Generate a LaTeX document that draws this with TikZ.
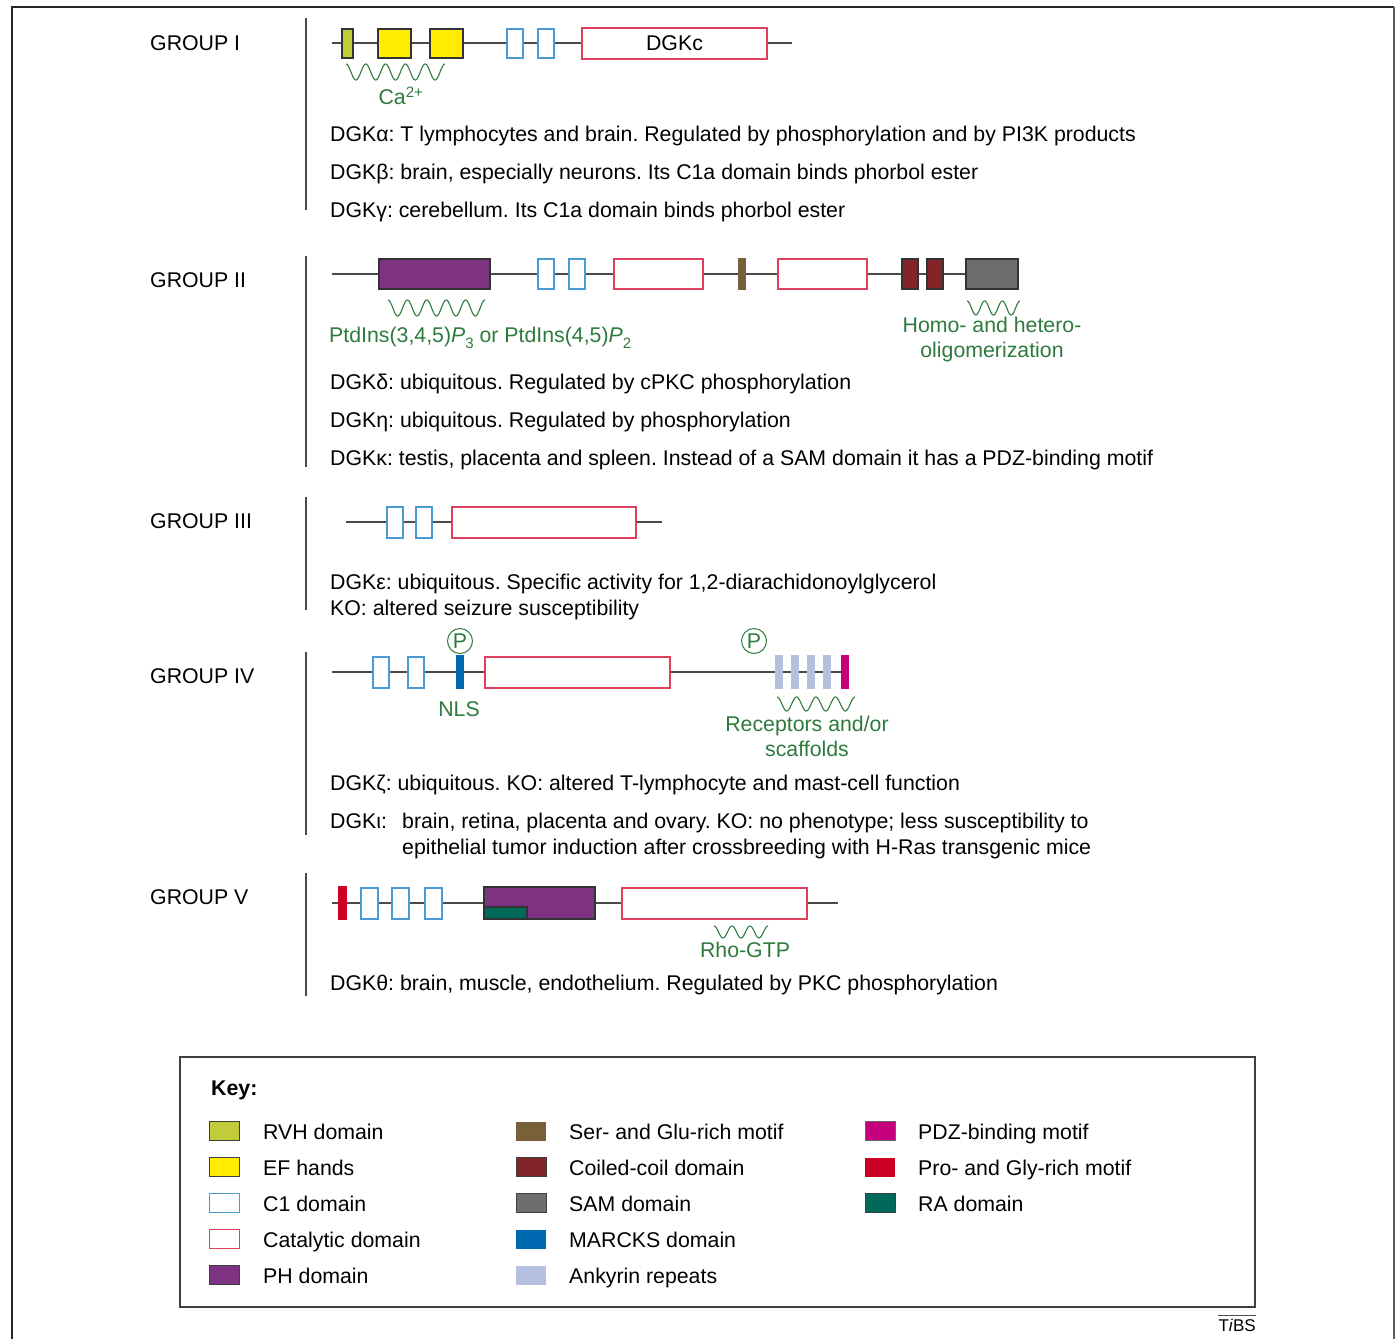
\documentclass[tikz,border=0pt]{standalone}
\usepackage{fontspec}
\setmainfont{Liberation Sans}
\frenchspacing
\definecolor{rvh}{HTML}{C2CB3A}
\definecolor{efc}{HTML}{FFEC00}
\definecolor{cone}{HTML}{4A9AD4}
\definecolor{catr}{HTML}{DE3F5C}
\definecolor{phc}{HTML}{7D3282}
\definecolor{serglu}{HTML}{77603A}
\definecolor{coil}{HTML}{832528}
\definecolor{samc}{HTML}{6E6E6E}
\definecolor{marcks}{HTML}{0067B1}
\definecolor{ank}{HTML}{B5BFE0}
\definecolor{pdz}{HTML}{C4007C}
\definecolor{progly}{HTML}{CC0025}
\definecolor{rac}{HTML}{00695A}
\definecolor{grn}{HTML}{2E7A3C}
\definecolor{bbl}{HTML}{4A4A4A}
\newcommand{\dom}[6]{%
  \pgfmathsetmacro\domW{#4-#3}\pgfmathsetmacro\domH{#6-#5}%
  \pgfmathsetmacro\domX{(#3+#4)/2}\pgfmathsetmacro\domY{(#5+#6)/2}%
  \node[#1, minimum width=\domW pt, minimum height=\domH pt] (#2) at (\domX,\domY) {};}
\newcommand{\wav}[5]{%
  \draw[wavy] plot[domain=0:#5, samples=160, smooth] ({#1+(#2-#1)*\x/#5},{(#3+#4)/2-(#4-#3)/2*cos(360*\x)});}
\newcommand{\subd}[1]{\raisebox{-0.3em}{\fontsize{15}{16}\selectfont #1}}
\begin{document}
\begin{tikzpicture}[x=1pt,y=-1pt,
  font=\fontsize{21.3}{25}\selectfont,
  backbone/.style={draw=bbl, line width=1.4pt},
  sep/.style={draw=bbl, line width=1.4pt},
  dombox/.style={rectangle, inner sep=0pt, outer sep=0pt, line width=1.1pt},
  cbox/.style={dombox, draw=cone, fill=white},
  katbox/.style={dombox, draw=catr, fill=white},
  solid box/.style={dombox, draw=black!80, fill=#1},
  bar/.style={dombox, draw=none, fill=#1},
  wavy/.style={draw=grn, line width=1.1pt},
  gtext/.style={text=grn, inner sep=0pt},
  desc/.style={anchor=base west, inner sep=0pt},
  grp/.style={anchor=base west, inner sep=0pt},
  pcirc/.style={circle, draw=grn, text=grn, line width=1pt, minimum size=25pt, inner sep=0pt},
  swatch/.style={rectangle, minimum width=30pt, minimum height=19pt, inner sep=0pt, line width=1pt},
  keytxt/.style={anchor=base west, inner sep=0pt}]
\useasboundingbox (0,0) rectangle (1399,1339);
% frame
\draw[line width=2pt, black!85] (12,1339) -- (12,7) -- (1394,7);
\draw[line width=2.6pt, black!65] (1394,7) -- (1394,1339);

% ---------------- GROUP I ----------------
\node[grp] (gI) at (150,50) {GROUP I};
\coordinate (sIa) at (306,18); \coordinate (sIb) at (306,210);
\draw[sep] (sIa) -- (sIb);
\coordinate (bIa) at (332,43); \coordinate (bIb) at (792,43);
\draw[backbone] (bIa) -- (bIb);
\dom{solid box=rvh}{rvhI}{342}{353}{29}{58}
\dom{solid box=efc}{efIa}{378}{411}{29}{58}
\dom{solid box=efc}{efIb}{430}{463}{29}{58}
\dom{cbox}{cIa}{507}{523}{29}{58}
\dom{cbox}{cIb}{538}{554}{29}{58}
\dom{katbox}{katI}{582}{767}{28}{59}
\node at (katI) {DGKc};
\wav{346}{445}{64}{80}{5}
\node[gtext] (ca) at (401,96) {Ca\textsuperscript{\fontsize{15}{16}\selectfont 2+}};
\node[desc] (dA) at (330,141) {DGKα: T lymphocytes and brain. Regulated by phosphorylation and by PI3K products};
\node[desc] (dB) at (330,179) {DGKβ: brain, especially neurons. Its C1a domain binds phorbol ester};
\node[desc] (dG) at (330,217) {DGKγ: cerebellum. Its C1a domain binds phorbol ester};

% ---------------- GROUP II ----------------
\node[grp] (gII) at (150,287) {GROUP II};
\coordinate (sIIa) at (306,256); \coordinate (sIIb) at (306,467);
\draw[sep] (sIIa) -- (sIIb);
\coordinate (bIIa) at (332,274); \coordinate (bIIb) at (1010,274);
\draw[backbone] (bIIa) -- (bIIb);
\dom{solid box=phc}{phII}{379}{490}{259}{289}
\dom{cbox}{cIIa}{538}{554}{259}{289}
\dom{cbox}{cIIb}{569}{585}{259}{289}
\dom{katbox}{katIIa}{614}{703}{259}{289}
\dom{bar=serglu}{sgII}{738}{746}{258}{290}
\dom{katbox}{katIIb}{778}{867}{259}{289}
\dom{solid box=coil}{ccIIa}{902}{918}{259}{289}
\dom{solid box=coil}{ccIIb}{927}{943}{259}{289}
\dom{solid box=samc}{samII}{966}{1018}{259}{289}
\wav{388}{485}{300}{316}{5}
\wav{967}{1020}{301}{315}{3}
\node[gtext, anchor=base west] (ptd) at (329,342) {PtdIns(3,4,5)\textit{P}\subd{3} or PtdIns(4,5)\textit{P}\subd{2}};
\node[gtext, align=center, font=\fontsize{21.3}{25}\selectfont] (homo) at (992,339) {Homo- and hetero-\\oligomerization};
\node[desc] (dD) at (330,389) {DGKδ: ubiquitous. Regulated by cPKC phosphorylation};
\node[desc] (dH) at (330,427) {DGKη: ubiquitous. Regulated by phosphorylation};
\node[desc] (dK) at (330,465) {DGKκ: testis, placenta and spleen. Instead of a SAM domain it has a PDZ-binding motif};

% ---------------- GROUP III ----------------
\node[grp] (gIII) at (150,528) {GROUP III};
\coordinate (sIIIa) at (306,497); \coordinate (sIIIb) at (306,610);
\draw[sep] (sIIIa) -- (sIIIb);
\coordinate (bIIIa) at (346,522); \coordinate (bIIIb) at (662,522);
\draw[backbone] (bIIIa) -- (bIIIb);
\dom{cbox}{cIIIa}{387}{403}{507}{538}
\dom{cbox}{cIIIb}{416}{432}{507}{538}
\dom{katbox}{katIII}{452}{636}{507}{538}
\node[desc] (dE) at (330,589) {DGKε: ubiquitous. Specific activity for 1,2-diarachidonoylglycerol};
\node[desc] (dEk) at (330,615) {KO: altered seizure susceptibility};

% ---------------- GROUP IV ----------------
\node[grp] (gIV) at (150,683) {GROUP IV};
\coordinate (sIVa) at (306,652); \coordinate (sIVb) at (306,835);
\draw[sep] (sIVa) -- (sIVb);
\coordinate (bIVa) at (332,672); \coordinate (bIVb) at (846,672);
\draw[backbone] (bIVa) -- (bIVb);
\dom{cbox}{cIVa}{373}{389}{657}{688}
\dom{cbox}{cIVb}{408}{424}{657}{688}
\dom{bar=marcks}{mkIV}{456}{464}{655}{689}
\dom{katbox}{katIV}{485}{670}{657}{688}
\dom{bar=ank}{anIVa}{775}{783}{655}{689}
\dom{bar=ank}{anIVb}{791}{799}{655}{689}
\dom{bar=ank}{anIVc}{807}{815}{655}{689}
\dom{bar=ank}{anIVd}{823}{831}{655}{689}
\dom{bar=pdz}{pdzIV}{841}{849}{655}{689}
\node[pcirc] (pA) at (460,641) {P};
\node[pcirc] (pB) at (754,641) {P};
\node[gtext] (nls) at (459,709) {NLS};
\wav{777}{855}{697}{711}{4}
\node[gtext, align=center, font=\fontsize{21.3}{25}\selectfont] (rec) at (807,736) {Receptors and/or\\scaffolds};
\node[desc] (dZ) at (330,790) {DGKζ: ubiquitous. KO: altered T-lymphocyte and mast-cell function};
\node[desc] (dI) at (330,828) {DGKι:};
\node[desc] (dIa) at (402,828) {brain, retina, placenta and ovary. KO: no phenotype; less susceptibility to};
\node[desc] (dIb) at (402,854) {epithelial tumor induction after crossbreeding with H-Ras transgenic mice};

% ---------------- GROUP V ----------------
\node[grp] (gV) at (150,904) {GROUP V};
\coordinate (sVa) at (306,873); \coordinate (sVb) at (306,996);
\draw[sep] (sVa) -- (sVb);
\coordinate (bVa) at (332,903); \coordinate (bVb) at (838,903);
\draw[backbone] (bVa) -- (bVb);
\dom{bar=progly}{pgV}{338}{347}{886}{920}
\dom{cbox}{cVa}{361}{378}{888}{919}
\dom{cbox}{cVb}{392}{409}{888}{919}
\dom{cbox}{cVc}{425}{442}{888}{919}
\dom{solid box=phc}{phV}{484}{595}{887}{919}
\dom{solid box=rac}{raV}{484}{527}{907}{919}
\dom{katbox}{katV}{622}{807}{888}{919}
\wav{714}{768}{926}{938}{3}
\node[gtext] (rho) at (745,950) {Rho-GTP};
\node[desc] (dT) at (330,990) {DGKθ: brain, muscle, endothelium. Regulated by PKC phosphorylation};

% ---------------- KEY ----------------
\node[draw=black!75, line width=1.6pt, minimum width=1075pt, minimum height=250pt, inner sep=0pt] (keybox) at (717.5,1182) {};
\node[anchor=base west, inner sep=0pt, font=\fontsize{21.3}{25}\selectfont\bfseries] (keyl) at (211,1095) {Key:};
% column 1
\node[swatch, draw=black!75, fill=rvh] (k1) at (224,1131) {};
\node[keytxt] at (263,1139) {RVH domain};
\node[swatch, draw=black!75, fill=efc] (k2) at (224,1167) {};
\node[keytxt] at (263,1175) {EF hands};
\node[swatch, draw=cone, fill=white] (k3) at (224,1203) {};
\node[keytxt] at (263,1211) {C1 domain};
\node[swatch, draw=catr, fill=white] (k4) at (224,1239) {};
\node[keytxt] at (263,1247) {Catalytic domain};
\node[swatch, draw=black!75, fill=phc] (k5) at (224,1275) {};
\node[keytxt] at (263,1283) {PH domain};
% column 2
\node[swatch, fill=serglu] (k6) at (531,1131) {};
\node[keytxt] at (569,1139) {Ser- and Glu-rich motif};
\node[swatch, draw=black!75, fill=coil] (k7) at (531,1167) {};
\node[keytxt] at (569,1175) {Coiled-coil domain};
\node[swatch, draw=black!75, fill=samc] (k8) at (531,1203) {};
\node[keytxt] at (569,1211) {SAM domain};
\node[swatch, fill=marcks] (k9) at (531,1239) {};
\node[keytxt] at (569,1247) {MARCKS domain};
\node[swatch, fill=ank] (k10) at (531,1275) {};
\node[keytxt] at (569,1283) {Ankyrin repeats};
% column 3
\node[swatch, draw=black!60, fill=pdz] (k11) at (880,1131) {};
\node[keytxt] at (918,1139) {PDZ-binding motif};
\node[swatch, fill=progly] (k12) at (880,1167) {};
\node[keytxt] at (918,1175) {Pro- and Gly-rich motif};
\node[swatch, draw=black!75, fill=rac] (k13) at (880,1203) {};
\node[keytxt] at (918,1211) {RA domain};

% TiBS
\node[anchor=base east, inner sep=0pt, font=\fontsize{17}{19}\selectfont] (tibs) at (1256,1331) {T\textit{i}BS};
\draw[line width=1.2pt, black!70] ([yshift=3pt]tibs.north west) -- ([yshift=3pt]tibs.north east);
\end{tikzpicture}
\end{document}
